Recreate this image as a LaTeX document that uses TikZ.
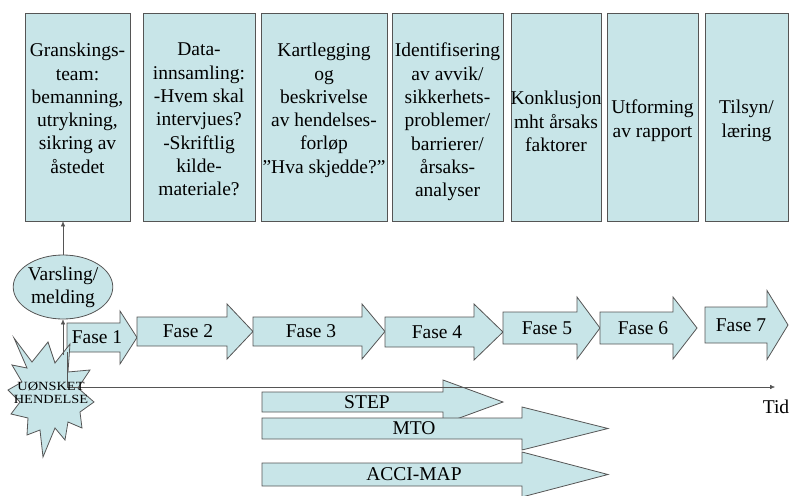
\documentclass[tikz,border=0pt]{standalone}
\usepackage{fontspec}
\setmainfont{Liberation Serif}
\newfontfamily\strekkfont[FakeStretch=1.15]{Liberation Serif}
\usetikzlibrary{arrows.meta}
\usetikzlibrary{shapes.geometric}

\definecolor{lysbla}{RGB}{200,229,232}
\definecolor{kant}{RGB}{85,85,85}

\begin{document}
\begin{tikzpicture}[x=1pt,y=-1pt,
  boks/.style={draw=kant,fill=lysbla,line width=0.8pt,minimum height=208pt,inner sep=0pt},
  tekst/.style={align=center,inner sep=0pt,font=\fontsize{19.5}{23.3}\selectfont},
  pil/.style={draw=kant,fill=lysbla,line width=0.8pt},
  pilspiss/.style={-{Latex[length=5pt,width=4.5pt]}}]
  \useasboundingbox (0,0) rectangle (789,495);

  % boksene over tidslinjen
  \foreach \n/\xa/\xb/\ty/\txt in {%
    b1/25/130/43/{Granskings-\\team:\\bemanning,\\utrykning,\\sikring av\\åstedet},
    b2/143/255/43/{Data-\\innsamling:\\-Hvem skal\\intervjues?\\-Skriftlig\\kilde-\\materiale?},
    b3/261/387/43/{Kartlegging\\og\\beskrivelse\\av hendelses-\\forløp\\”Hva skjedde?”},
    b4/392/503/43/{Identifisering\\av avvik/\\sikkerhets-\\problemer/\\barrierer/\\årsaks-\\analyser},
    b5/511/601/91/{Konklusjon\\mht årsaks\\faktorer},
    b6/607/698/100/{Utforming\\av rapport},
    b7/705/788/100/{Tilsyn/\\læring}} {
      \node[boks,minimum width={(\xb-\xa)*1pt}] (\n) at ({(\xa+\xb)/2},117) {};
      \node[tekst,anchor=north] (\n t) at ({(\xa+\xb)/2},\ty) {\txt};
  }

  % fasepilene
  \foreach \n/\xa/\xh/\xt/\yt/\yb/\e/\lx/\txt in {%
    f1/67/120/137/323/352/12/97/Fase 1,
    f2/137/227/253/317/346/13/188/Fase 2,
    f3/253/362/385/317/346/13/311/Fase 3,
    f4/385/474/503/317/347/13/437/Fase 4,
    f5/503/577/600/312/344/15/547/Fase 5,
    f6/600/673/697/312/344/15/643/Fase 6,
    f7/705/767/788/307/343/16.5/741/Fase 7,
    step/262/443/503/392/412/12/367/STEP,
    mto/262/522/608/418/439/11/414/MTO,
    accimap/262/522/608/463/486/11/414/ACCI-MAP} {
      \draw[pil] (\xa,\yt) -- (\xh,\yt) -- ({\xh},{\yt-\e}) -- ({\xt},{(\yt+\yb)/2})
        -- ({\xh},{\yb+\e}) -- (\xh,\yb) -- (\xa,\yb) -- cycle;
      \node[tekst] (\n) at ({\lx},{(\yt+\yb)/2}) {\txt};
  }

  \node[ellipse,pil,tekst,minimum width=92pt,minimum height=64pt] (varsling) at (63,287) {Varsling/\\melding};

  % stjerna
  \filldraw[pil] (14,338) -- (32,362) -- (48,342) -- (55,363) -- (70,344) -- (68,372)
    -- (90,370) -- (78,388) -- (94,402) -- (80,412) -- (82,428) -- (68,422)
    -- (65,440) -- (55,428) -- (43,457) -- (40,430) -- (27,435) -- (28,418)
    -- (11,414) -- (20,402) -- (8,390) -- (22,382) -- (12,365) -- (27,368) -- cycle;

  \coordinate (varselstart) at (63,355);
  \coordinate (f1hjorne) at (67,352);
  \coordinate (akse0) at (67,387);
  \coordinate (akse1) at (775,387);
  \draw[kant,pilspiss] (varselstart) -- (varsling.south);
  \draw[kant,pilspiss] (varsling.north) -- (varsling.north |- b1.south);
  \draw[kant,pilspiss] (f1hjorne) -- (akse0) -- (akse1);

  \node[align=center,inner sep=0pt,font=\strekkfont\fontsize{12.5}{12.5}\selectfont] (hendelse) at (51,393) {UØNSKET\\HENDELSE};
  \node[tekst] (tid) at (776,407) {Tid};
\end{tikzpicture}
\end{document}
